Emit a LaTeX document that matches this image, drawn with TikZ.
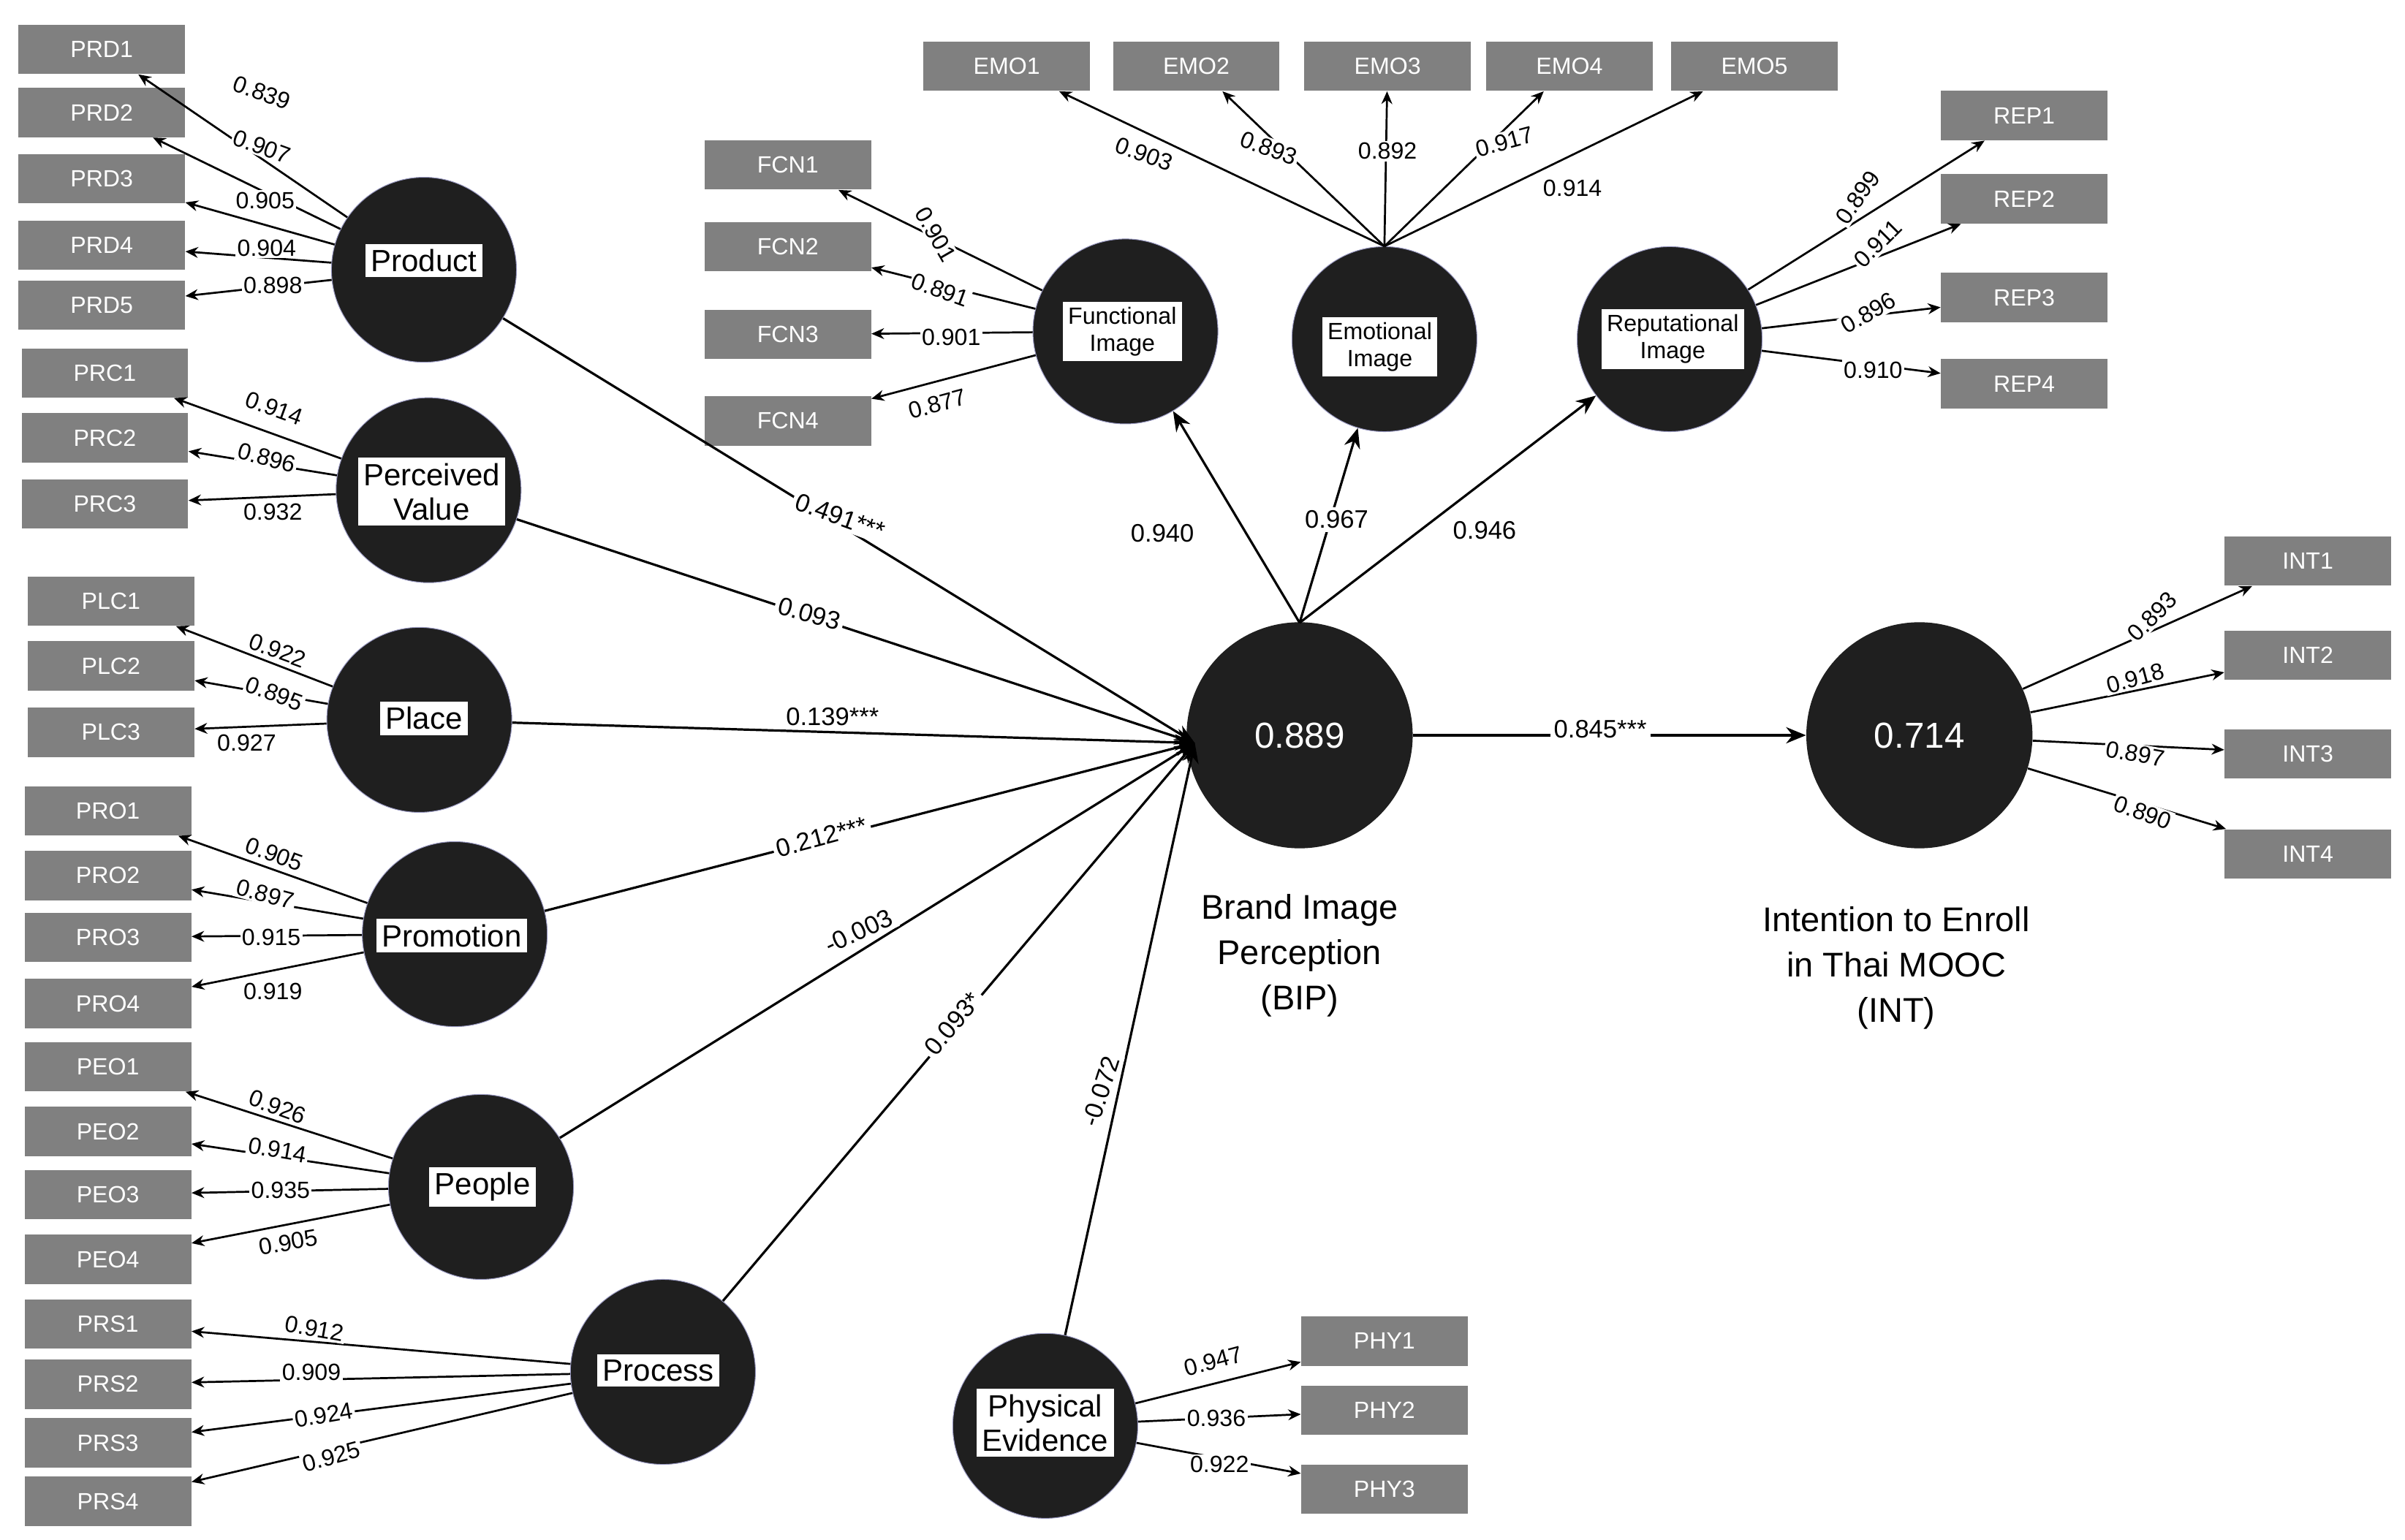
\documentclass[tikz,border=0pt]{standalone}
\usepackage{fontspec}
\setmainfont{Liberation Sans}
\usetikzlibrary{arrows.meta}
\begin{document}
\begin{tikzpicture}[x=0.03cm,y=-0.03cm,
 ind/.style={fill=black!50,text=white,minimum width=3.24cm,minimum height=0.96cm,inner sep=0pt,font=\fontsize{13}{15}\selectfont},
 lv/.style={circle,fill=black!88,draw=black!60!blue!40,minimum size=3.6cm,inner sep=0pt},
 big/.style={circle,fill=black!88,minimum size=4.4cm,inner sep=0pt,text=white,font=\fontsize{20}{24}\selectfont},
 lab/.style={fill=white,inner sep=3pt,align=center,font=\fontsize{17}{19}\selectfont},
 slab/.style={fill=white,inner sep=3pt,align=center,font=\fontsize{13}{15}\selectfont},
 ld/.style={font=\fontsize{13}{15}\selectfont,inner sep=1pt,fill=white},
 pl/.style={font=\fontsize{14}{16}\selectfont,fill=white,inner sep=2pt},
 ar/.style={-{Stealth[length=7pt,width=6pt]},line width=1.1pt},
 pa/.style={-{Stealth[length=11pt,width=9pt]},line width=1.3pt}]
\useasboundingbox (0,0) rectangle (1560,999);
% indicator boxes
\foreach \n/\y in {1/32,2/73,3/116,4/159,5/198} \node[ind] (PRD\n) at (66,\y) {PRD\n};
\foreach \n/\y in {1/242,2/284,3/327} \node[ind] (PRC\n) at (68,\y) {PRC\n};
\foreach \n/\y in {1/390,2/432,3/475} \node[ind] (PLC\n) at (72,\y) {PLC\n};
\foreach \n/\y in {1/526,2/568,3/608,4/651} \node[ind] (PRO\n) at (70,\y) {PRO\n};
\foreach \n/\y in {1/692,2/734,3/775,4/817} \node[ind] (PEO\n) at (70,\y) {PEO\n};
\foreach \n/\y in {1/859,2/898,3/936,4/974} \node[ind] (PRS\n) at (70,\y) {PRS\n};
\foreach \n/\y in {1/107,2/160,3/217,4/273} \node[ind] (FCN\n) at (511,\y) {FCN\n};
\foreach \n/\x in {1/653,2/776,3/900,4/1018,5/1138} \node[ind] (EMO\n) at (\x,43) {EMO\n};
\foreach \n/\y in {1/75,2/129,3/193,4/249} \node[ind] (REP\n) at (1313,\y) {REP\n};
\foreach \n/\y in {1/364,2/425,3/489,4/554} \node[ind] (INT\n) at (1497,\y) {INT\n};
\foreach \n/\y in {1/870,2/915,3/966} \node[ind] (PHY\n) at (898,\y) {PHY\n};
% latent
\node[lv] (prd) at (275,175) {}; \node[lab] at (275,169) {Product};
\node[lv] (prc) at (278,318) {}; \node[lab] at (280,319) {Perceived\\Value};
\node[lv] (plc) at (272,467) {}; \node[lab] at (275,466) {Place};
\node[lv] (pro) at (295,606) {}; \node[lab] at (293,607) {Promotion};
\node[lv] (peo) at (312,770) {}; \node[lab] at (313,770) {People};
\node[lv] (prs) at (430,890) {}; \node[lab] at (427,889) {Process};
\node[lv] (phy) at (678,925) {}; \node[lab] at (678,923) {Physical\\Evidence};
\node[lv] (fi) at (730,215) {}; \node[slab] at (728,215) {Functional\\Image};
\node[lv] (ei) at (898,220) {}; \node[slab] at (895,225) {Emotional\\Image};
\node[lv] (ri) at (1083,220) {}; \node[slab] at (1085,220) {Reputational\\Image};
\node[big] (bip) at (843,477) {0.889};
\node[big] (int) at (1245,477) {0.714};
\node[align=center,font=\fontsize{19}{25}\selectfont] (bipt) at (843,620) {Brand Image\\Perception\\(BIP)};
\node[align=center,font=\fontsize{19}{25}\selectfont] (intt) at (1230,628) {Intention to Enroll\\in Thai MOOC\\(INT)};
% indicator arrows
\foreach \n in {1,...,5} \draw[ar] (prd) -- (PRD\n);
\foreach \n in {1,...,3} \draw[ar] (prc) -- (PRC\n);
\foreach \n in {1,...,3} \draw[ar] (plc) -- (PLC\n);
\foreach \n in {1,...,4} \draw[ar] (pro) -- (PRO\n);
\foreach \n in {1,...,4} \draw[ar] (peo) -- (PEO\n);
\foreach \n in {1,...,4} \draw[ar] (prs) -- (PRS\n);
\foreach \n in {1,...,4} \draw[ar] (fi) -- (FCN\n);
\foreach \n in {1,...,5} \draw[ar] (ei.north) -- (EMO\n);
\foreach \n in {1,...,4} \draw[ar] (ri) -- (REP\n);
\foreach \n in {1,...,4} \draw[ar] (int) -- (INT\n);
\foreach \n in {1,...,3} \draw[ar] (phy) -- (PHY\n);
% loadings
\node[ld,rotate=-20] at (170,60) {0.839};
\node[ld,rotate=-20] at (170,95) {0.907};
\node[ld] at (172,130) {0.905};
\node[ld] at (173,161) {0.904};
\node[ld] at (177,185) {0.898};
\node[ld,rotate=-20] at (178,265) {0.914};
\node[ld,rotate=-15] at (173,297) {0.896};
\node[ld] at (177,332) {0.932};
\node[ld,rotate=-20] at (180,422) {0.922};
\node[ld,rotate=-20] at (178,450) {0.895};
\node[ld] at (160,482) {0.927};
\node[ld,rotate=-20] at (178,554) {0.905};
\node[ld,rotate=-15] at (172,580) {0.897};
\node[ld] at (176,608) {0.915};
\node[ld] at (177,643) {0.919};
\node[ld,rotate=-20] at (180,718) {0.926};
\node[ld,rotate=-10] at (180,746) {0.914};
\node[ld] at (182,772) {0.935};
\node[ld,rotate=10] at (187,806) {0.905};
\node[ld,rotate=-10] at (204,862) {0.912};
\node[ld] at (202,890) {0.909};
\node[ld,rotate=10] at (210,918) {0.924};
\node[ld,rotate=15] at (215,945) {0.925};
\node[ld,rotate=-60] at (607,152) {0.901};
\node[ld,rotate=-20] at (610,188) {0.891};
\node[ld] at (617,219) {0.901};
\node[ld,rotate=15] at (608,262) {0.877};
\node[ld,rotate=-20] at (742,100) {0.903};
\node[ld,rotate=-20] at (823,96) {0.893};
\node[ld] at (900,98) {0.892};
\node[ld,rotate=15] at (976,92) {0.917};
\node[ld] at (1020,122) {0.914};
\node[ld,rotate=55] at (1205,128) {0.899};
\node[ld,rotate=45] at (1218,158) {0.911};
\node[ld,rotate=30] at (1212,203) {0.896};
\node[ld] at (1215,240) {0.910};
\node[ld,rotate=45] at (1396,400) {0.893};
\node[ld,rotate=15] at (1385,440) {0.918};
\node[ld,rotate=-10] at (1385,489) {0.897};
\node[ld,rotate=-20] at (1390,527) {0.890};
\node[ld,rotate=15] at (787,883) {0.947};
\node[ld] at (789,920) {0.936};
\node[ld] at (791,950) {0.922};
% structural paths
\coordinate (bin) at (775,482);
\draw[pa] (prd) -- (bin); \node[pl,rotate=-20] at (545,335) {0.491***};
\draw[pa] (prc) -- (bin); \node[pl,rotate=-15] at (525,398) {0.093};
\draw[pa] (plc) -- (bin); \node[pl] at (540,465) {0.139***};
\draw[pa] (pro) -- (bin); \node[pl,rotate=15] at (533,543) {0.212***};
\draw[pa] (peo) -- (bin); \node[pl,rotate=25] at (557,604) {-0.003};
\draw[pa] (prs) -- (bin); \node[pl,rotate=50] at (618,664) {0.093*};
\draw[pa] (phy) -- (bin); \node[pl,rotate=72] at (714,708) {-0.072};
\coordinate (btop) at (843,404);
\draw[pa] (btop) -- (fi); \node[pl] at (754,346) {0.940};
\draw[pa] (btop) -- (ei); \node[pl] at (867,337) {0.967};
\draw[pa] (btop) -- (ri); \node[pl] at (963,344) {0.946};
\draw[pa] (bip) -- (int); \node[pl] at (1038,473) {0.845***};
\end{tikzpicture}
\end{document}
